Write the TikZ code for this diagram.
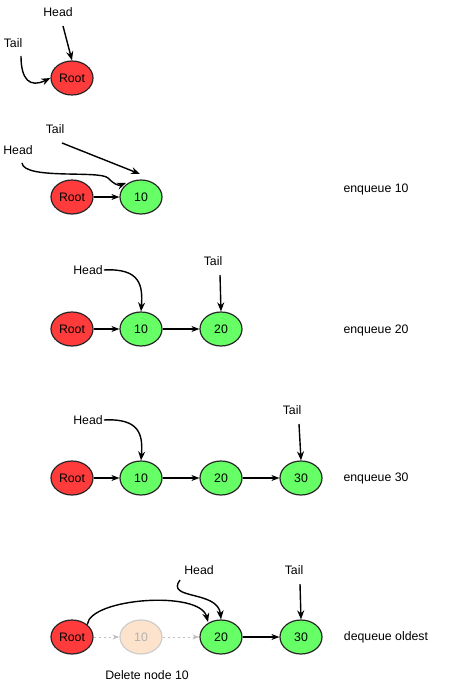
\documentclass[tikz,border=0pt]{standalone}
\usepackage{fontspec}
\setmainfont{Liberation Sans}
\usetikzlibrary{arrows.meta,shapes.geometric}
\definecolor{rootred}{HTML}{FF3B3B}
\definecolor{nodegreen}{HTML}{66FF66}
\definecolor{fadefill}{HTML}{FDE3CC}
\begin{document}
\begin{tikzpicture}[x=1pt,y=-1pt,
  font=\fontsize{12.3}{14}\selectfont,
  qnode/.style={draw=black!85,line width=1.2pt,ellipse,minimum width=42pt,minimum height=34pt,inner sep=0pt},
  rootnode/.style={qnode,fill=rootred},
  valnode/.style={qnode,fill=nodegreen},
  fadenode/.style={qnode,fill=fadefill,draw=black!20,text=black!30},
  lbl/.style={inner sep=1pt},
  ptr/.style={line width=1.4pt,-{Stealth[length=9pt,width=7pt]}},
  link/.style={line width=1.2pt,-{Stealth[length=8pt,width=6pt]}},
  fadelink/.style={line width=1pt,black!25,dash pattern=on 2pt off 3pt,-{Stealth[length=7pt,width=5pt]}}
]
\useasboundingbox (0,0) rectangle (453,687);

% Row 1
\node[rootnode] (r1) at (72,78) {Root};
\node[lbl] (h1) at (58,12) {Head};
\node[lbl] (t1) at (13,43) {Tail};
\coordinate (h1s) at (63,26);
\coordinate (t1s) at (21,56);
\draw[ptr] (h1s) -- (r1.north);
\draw[ptr] (t1s) .. controls (21,80) and (30,88) .. (r1.west);

% Row 2
\node[rootnode] (r2) at (72,197) {Root};
\node[valnode] (n2a) at (141,197) {10};
\node[lbl] (t2) at (55,129) {Tail};
\node[lbl] (h2) at (18,150) {Head};
\node[lbl] (e2) at (376,189) {enqueue 10};
\draw[link] (r2) -- (n2a);
\coordinate (t2s) at (62,143);
\coordinate (t2e) at (140,174);
\draw[ptr] (t2s) -- (t2e);
\coordinate (h2s) at (22,163);
\coordinate (h2e) at (126,183);
\draw[ptr] (h2s) .. controls (24,180) and (100,170) .. (108,178) .. controls (114,184) and (118,186) .. (h2e);

% Row 3
\node[rootnode] (r3) at (72,329) {Root};
\node[valnode] (n3a) at (141,329) {10};
\node[valnode] (n3b) at (221,329) {20};
\node[lbl] (h3) at (88,270) {Head};
\node[lbl] (t3) at (213,261) {Tail};
\node[lbl] (e3) at (376,330) {enqueue 20};
\draw[link] (r3) -- (n3a);
\draw[link] (n3a) -- (n3b);
\draw[ptr] (h3.east) .. controls (140,268) and (143,285) .. (n3a.north);
\coordinate (t3s) at (220,275);
\draw[ptr] (t3s) -- (n3b.north);

% Row 4
\node[rootnode] (r4) at (72,478) {Root};
\node[valnode] (n4a) at (141,478) {10};
\node[valnode] (n4b) at (221,478) {20};
\node[valnode] (n4c) at (301,478) {30};
\node[lbl] (h4) at (88,420) {Head};
\node[lbl] (t4) at (292,410) {Tail};
\node[lbl] (e4) at (376,478) {enqueue 30};
\draw[link] (r4) -- (n4a);
\draw[link] (n4a) -- (n4b);
\draw[link] (n4b) -- (n4c);
\draw[ptr] (h4.east) .. controls (140,418) and (143,435) .. (n4a.north);
\coordinate (t4s) at (299,424);
\draw[ptr] (t4s) -- (n4c.north);

% Row 5
\node[rootnode] (r5) at (72,637) {Root};
\node[fadenode] (n5a) at (141,637) {10};
\node[valnode] (n5b) at (221,637) {20};
\node[valnode] (n5c) at (301,637) {30};
\node[lbl] (h5) at (199,570) {Head};
\node[lbl] (t5) at (294,570) {Tail};
\node[lbl] (e5) at (386,637) {dequeue oldest};
\node[lbl] (d5) at (147,675) {Delete node 10};
\draw[fadelink] (r5) -- (n5a);
\draw[fadelink] (n5a) -- (n5b);
\draw[link] (n5b) -- (n5c);
\coordinate (r5t) at (208,622);
\draw[ptr] (r5.north east) .. controls (90,598) and (200,590) .. (r5t);
\coordinate (h5s) at (180,580);
\draw[ptr] (h5s) .. controls (165,600) and (218,590) .. (n5b.north);
\coordinate (t5s) at (300,584);
\draw[ptr] (t5s) -- (n5c.north);
\end{tikzpicture}
\end{document}
